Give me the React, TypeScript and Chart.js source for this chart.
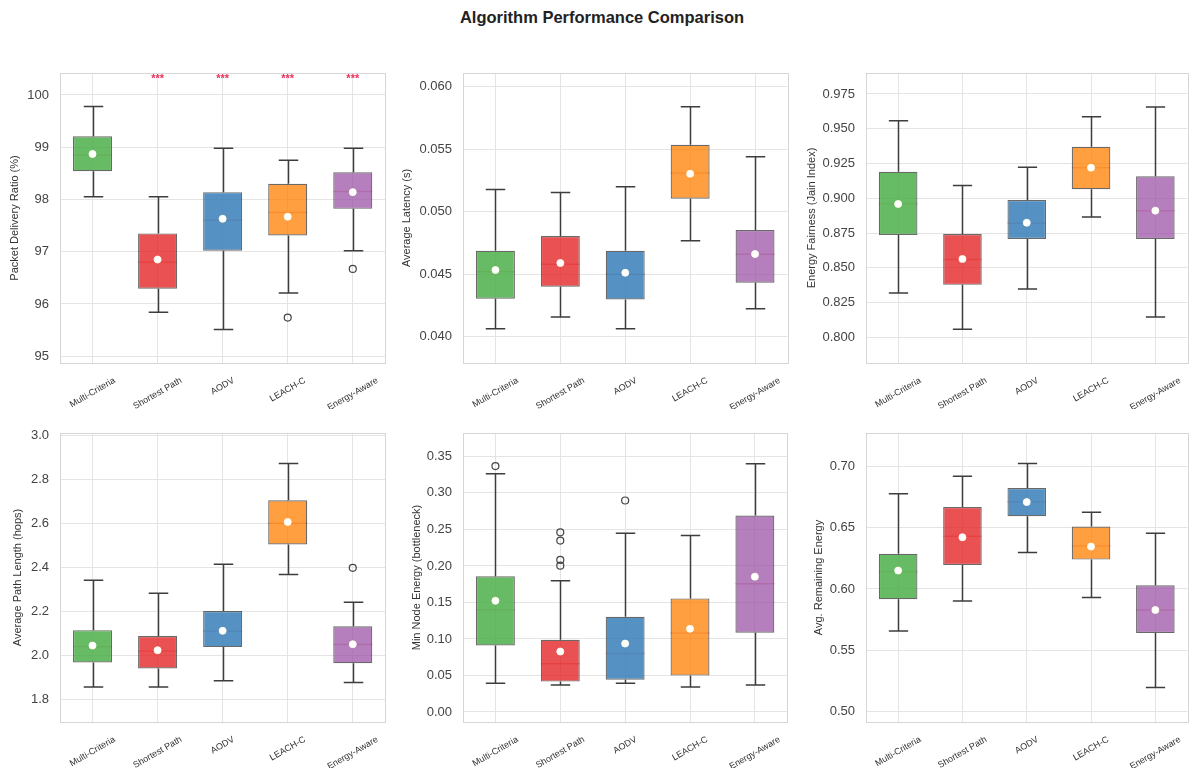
import React, { useEffect, useRef } from "react";
import { Chart, registerables } from "chart.js";

Chart.register(...registerables);

const FONT = "'Liberation Sans', Arial, Helvetica, sans-serif";

const categories = ["Multi-Criteria", "Shortest Path", "AODV", "LEACH-C", "Energy-Aware"];
const boxColors = [
  "rgba(77,175,74,0.85)",
  "rgba(228,26,28,0.76)",
  "rgba(55,126,184,0.85)",
  "rgba(255,127,0,0.75)",
  "rgba(152,78,163,0.72)",
];

// Packet Delivery Ratio (%)
const pdrLow = [98.05, 95.84, 95.51, 96.21, 97.02];
const pdrQ1 = [98.54, 96.29, 97.02, 97.31, 97.82];
const pdrMedian = [98.85, 96.8, 97.6, 97.75, 98.15];
const pdrQ3 = [99.21, 97.35, 98.14, 98.3, 98.52];
const pdrHigh = [99.78, 98.05, 98.98, 98.75, 98.98];
const pdrMean = [98.87, 96.85, 97.63, 97.67, 98.14];
const pdrOutliers = [[], [], [], [95.74], [96.67]];
const pdrTicks = [95, 96, 97, 98, 99, 100];
const pdrSig = ["", "***", "***", "***", "***"];
const pdrSigLevel = 100.3;

// Average Latency (s)
const latLow = [0.04064, 0.04158, 0.04064, 0.04768, 0.04224];
const latQ1 = [0.04304, 0.044, 0.04299, 0.05104, 0.04432];
const latMedian = [0.0452, 0.0458, 0.045, 0.0531, 0.0466];
const latQ3 = [0.04688, 0.04806, 0.04688, 0.05536, 0.04854];
const latHigh = [0.05179, 0.05155, 0.052, 0.0584, 0.0544];
const latMean = [0.04534, 0.0459, 0.04512, 0.05304, 0.04662];
const latOutliers = [[], [], [], [], []];
const latTicks = [0.04, 0.045, 0.05, 0.055, 0.06];

// Energy Fairness (Jain Index)
const jainLow = [0.8319, 0.8058, 0.8348, 0.8865, 0.8146];
const jainQ1 = [0.8736, 0.8377, 0.8707, 0.9065, 0.8707];
const jainMedian = [0.896, 0.856, 0.882, 0.922, 0.891];
const jainQ3 = [0.9191, 0.8743, 0.8988, 0.9371, 0.9158];
const jainHigh = [0.9558, 0.9091, 0.9223, 0.9587, 0.9657];
const jainMean = [0.8959, 0.8563, 0.8824, 0.922, 0.8911];
const jainOutliers = [[], [], [], [], []];
const jainTicks = [0.8, 0.825, 0.85, 0.875, 0.9, 0.925, 0.95, 0.975];

// Average Path Length (hops)
const hopLow = [1.857, 1.857, 1.885, 2.368, 1.877];
const hopQ1 = [1.968, 1.941, 2.038, 2.504, 1.965];
const hopMedian = [2.04, 2.02, 2.11, 2.6, 2.05];
const hopQ3 = [2.115, 2.088, 2.202, 2.705, 2.133];
const hopHigh = [2.342, 2.283, 2.414, 2.872, 2.242];
const hopMean = [2.045, 2.024, 2.112, 2.606, 2.051];
const hopOutliers = [[], [], [], [], [2.398]];
const hopTicks = [1.8, 2.0, 2.2, 2.4, 2.6, 2.8, 3.0];

// Min Node Energy (bottleneck)
const minLow = [0.0394, 0.0371, 0.0394, 0.0343, 0.0371];
const minQ1 = [0.091, 0.0416, 0.0443, 0.0498, 0.1084];
const minMedian = [0.14, 0.066, 0.08, 0.108, 0.1757];
const minQ3 = [0.1857, 0.0988, 0.1304, 0.1555, 0.269];
const minHigh = [0.3262, 0.1798, 0.2447, 0.2416, 0.34];
const minMean = [0.1523, 0.0828, 0.0937, 0.1139, 0.1853];
const minOutliers = [[0.3367], [0.246, 0.2347, 0.2082, 0.2004], [0.2896], [], []];
const minTicks = [0, 0.05, 0.1, 0.15, 0.2, 0.25, 0.3, 0.35];

// Avg. Remaining Energy
const remLow = [0.5658, 0.5903, 0.6297, 0.593, 0.5198];
const remQ1 = [0.5916, 0.6196, 0.6592, 0.6239, 0.5642];
const remMedian = [0.614, 0.643, 0.671, 0.635, 0.583];
const remQ3 = [0.6286, 0.6666, 0.6821, 0.6508, 0.603];
const remHigh = [0.6775, 0.6918, 0.702, 0.6625, 0.6454];
const remMean = [0.615, 0.6421, 0.6707, 0.6345, 0.5829];
const remOutliers = [[], [], [], [], []];
const remTicks = [0.5, 0.55, 0.6, 0.65, 0.7];

type Panel = {
  title: string;
  low: number[]; q1: number[]; median: number[]; q3: number[]; high: number[]; mean: number[];
  outliers: number[][];
  ticks: number[]; decimals: number; min: number; max: number;
  left: number; top: number; width: number; height: number;
  yW: number; areaTop: number; padRight: number; chartH: number; titlePad: number;
  sig?: string[]; sigLevel?: number;
};

const panels: Panel[] = [
  { title: "Packet Delivery Ratio (%)", low: pdrLow, q1: pdrQ1, median: pdrMedian, q3: pdrQ3, high: pdrHigh, mean: pdrMean, outliers: pdrOutliers, ticks: pdrTicks, decimals: 0, min: 94.87, max: 100.42, left: 0, top: 60, width: 390, height: 349, yW: 60, areaTop: 13, padRight: 3, chartH: 290, titlePad: 8.4, sig: pdrSig, sigLevel: pdrSigLevel },
  { title: "Average Latency (s)", low: latLow, q1: latQ1, median: latMedian, q3: latQ3, high: latHigh, mean: latMean, outliers: latOutliers, ticks: latTicks, decimals: 3, min: 0.0379, max: 0.0611, left: 392, top: 60, width: 400, height: 349, yW: 71, areaTop: 13, padRight: 3, chartH: 290, titlePad: 8.4 },
  { title: "Energy Fairness (Jain Index)", low: jainLow, q1: jainQ1, median: jainMedian, q3: jainQ3, high: jainHigh, mean: jainMean, outliers: jainOutliers, ticks: jainTicks, decimals: 3, min: 0.7815, max: 0.9901, left: 797, top: 60, width: 395, height: 349, yW: 69, areaTop: 13, padRight: 1, chartH: 290, titlePad: 8.4 },
  { title: "Average Path Length (hops)", low: hopLow, q1: hopQ1, median: hopMedian, q3: hopQ3, high: hopHigh, mean: hopMean, outliers: hopOutliers, ticks: hopTicks, decimals: 1, min: 1.698, max: 3.01, left: 0, top: 420, width: 390, height: 348, yW: 60, areaTop: 13, padRight: 3, chartH: 289, titlePad: 11.4 },
  { title: "Min Node Energy (bottleneck)", low: minLow, q1: minQ1, median: minMedian, q3: minQ3, high: minHigh, mean: minMean, outliers: minOutliers, ticks: minTicks, decimals: 2, min: -0.0137, max: 0.382, left: 392, top: 420, width: 400, height: 348, yW: 71, areaTop: 13, padRight: 3, chartH: 289, titlePad: 18.4 },
  { title: "Avg. Remaining Energy", low: remLow, q1: remQ1, median: remMedian, q3: remQ3, high: remHigh, mean: remMean, outliers: remOutliers, ticks: remTicks, decimals: 2, min: 0.4918, max: 0.7269, left: 797, top: 420, width: 395, height: 348, yW: 69, areaTop: 13, padRight: 1, chartH: 289, titlePad: 15.4 },
];

const GRID = "#e4e4e4";
const TICK_FONT = 13;

function BoxPanel({ p }: { p: Panel }) {
  const ref = useRef<HTMLCanvasElement | null>(null);
  useEffect(() => {
    if (!ref.current) return;
    const outlierData: { x: string; y: number }[] = [];
    p.outliers.forEach((arr, i) => arr.forEach((v) => outlierData.push({ x: categories[i], y: v })));

    const boxPlugin = {
      id: "boxExtras",
      beforeDatasetsDraw(chart: any) {
        const { ctx } = chart;
        const xs = chart.scales.x;
        const ys = chart.scales.y;
        const step = xs.getPixelForValue(1) - xs.getPixelForValue(0);
        const halfBox = step * 0.3;
        ctx.save();
        // medians (very faint, beneath the translucent boxes)
        ctx.strokeStyle = "rgba(210,40,40,0.3)";
        ctx.lineWidth = 1.5;
        p.median.forEach((m, i) => {
          const x = xs.getPixelForValue(i);
          const y = ys.getPixelForValue(m);
          ctx.beginPath();
          ctx.moveTo(x - halfBox, y);
          ctx.lineTo(x + halfBox, y);
          ctx.stroke();
        });
        // whiskers and caps
        ctx.strokeStyle = "#3d3d3d";
        ctx.lineWidth = 1.5;
        const cap = step * 0.15;
        categories.forEach((_, i) => {
          const x = Math.round(xs.getPixelForValue(i)) + 0.5;
          const yl = ys.getPixelForValue(p.low[i]);
          const y1 = ys.getPixelForValue(p.q1[i]);
          const y3 = ys.getPixelForValue(p.q3[i]);
          const yh = ys.getPixelForValue(p.high[i]);
          ctx.beginPath();
          ctx.moveTo(x, y1);
          ctx.lineTo(x, yl);
          ctx.moveTo(x - cap, yl);
          ctx.lineTo(x + cap, yl);
          ctx.moveTo(x, y3);
          ctx.lineTo(x, yh);
          ctx.moveTo(x - cap, yh);
          ctx.lineTo(x + cap, yh);
          ctx.stroke();
        });
        ctx.restore();
      },
      afterDraw(chart: any) {
        const { ctx, chartArea } = chart;
        const xs = chart.scales.x;
        const ys = chart.scales.y;
        ctx.save();
        // frame
        ctx.strokeStyle = "#d6d6d6";
        ctx.lineWidth = 1;
        ctx.strokeRect(
          Math.round(chartArea.left) + 0.5,
          Math.round(chartArea.top) + 0.5,
          Math.round(chartArea.right - chartArea.left),
          Math.round(chartArea.bottom - chartArea.top)
        );
        // rotated, centred category labels
        const fs = 9;
        ctx.font = `${fs}px ${FONT}`;
        ctx.fillStyle = "#333";
        ctx.textAlign = "center";
        ctx.textBaseline = "middle";
        const th = (30 * Math.PI) / 180;
        categories.forEach((c, i) => {
          const w = ctx.measureText(c).width;
          const H = w * Math.sin(th) + fs * Math.cos(th);
          const x = xs.getPixelForValue(i);
          const y = chartArea.bottom + 13 + H / 2;
          ctx.save();
          ctx.translate(x, y);
          ctx.rotate(-th);
          ctx.fillText(c, 0, 0);
          ctx.restore();
        });
        // significance markers
        if (p.sig && p.sigLevel !== undefined) {
          ctx.font = `bold 11px ${FONT}`;
          ctx.fillStyle = "#e8305a";
          ctx.textAlign = "center";
          ctx.textBaseline = "middle";
          p.sig.forEach((s, i) => {
            if (!s) return;
            ctx.fillText(s, xs.getPixelForValue(i), ys.getPixelForValue(p.sigLevel));
          });
        }
        ctx.restore();
      },
    };

    const chart = new Chart(ref.current, {
      type: "bar",
      data: {
        labels: categories,
        datasets: [
          {
            type: "line",
            data: p.mean.map((m, i) => ({ x: categories[i], y: m })),
            showLine: false,
            pointRadius: 3.5,
            pointHoverRadius: 3.5,
            pointBackgroundColor: "#ffffff",
            pointBorderColor: "rgba(255,255,235,0.9)",
            pointBorderWidth: 1,
            order: 1,
          } as any,
          {
            type: "line",
            data: outlierData,
            showLine: false,
            pointRadius: 3.5,
            pointHoverRadius: 3.5,
            pointBackgroundColor: "rgba(255,255,255,0)",
            pointBorderColor: "#444",
            pointBorderWidth: 1.2,
            order: 2,
          } as any,
          {
            type: "bar",
            data: p.q1.map((q, i) => [q, p.q3[i]]),
            backgroundColor: boxColors,
            borderColor: "rgba(55,55,55,0.75)",
            borderWidth: 1.2,
            borderSkipped: false,
            barPercentage: 0.6,
            categoryPercentage: 1.0,
            order: 3,
          } as any,
        ],
      },
      options: {
        animation: false,
        responsive: false,
        maintainAspectRatio: false,
        layout: { padding: { top: p.areaTop, right: p.padRight, left: 0, bottom: 0 } },
        plugins: {
          legend: { display: false },
          tooltip: { enabled: false },
          title: { display: false },
        },
        scales: {
          x: {
            type: "category",
            offset: true,
            grid: { offset: false, color: GRID, drawTicks: false, lineWidth: 1 },
            border: { display: false },
            ticks: { display: false },
            afterFit: (s: any) => {
              s.height = p.height - p.areaTop - p.chartH;
            },
          },
          y: {
            min: p.min,
            max: p.max,
            afterBuildTicks: (s: any) => {
              s.ticks = p.ticks.map((v) => ({ value: v }));
            },
            ticks: {
              callback: (v: any) => Number(v).toFixed(p.decimals),
              font: { family: FONT, size: TICK_FONT },
              color: "#444",
              padding: 0,
            },
            grid: { color: GRID, drawTicks: true, tickLength: 11, tickColor: "rgba(0,0,0,0)", lineWidth: 1 },
            border: { display: false },
            title: {
              display: true,
              text: p.title,
              font: { family: FONT, size: 11 },
              color: "#333",
              padding: { top: p.titlePad, bottom: 0 },
            },
            afterFit: (s: any) => {
              s.width = p.yW;
            },
          },
        },
      } as any,
      plugins: [boxPlugin],
    });
    return () => chart.destroy();
  }, [p]);

  return (
    <canvas
      ref={ref}
      width={p.width}
      height={p.height}
      style={{ position: "absolute", left: p.left, top: p.top, width: p.width, height: p.height }}
    />
  );
}

export default function App() {
  return (
    <div style={{ position: "absolute", left: 0, top: 0, width: 1192, height: 769, background: "#fff", overflow: "hidden" }}>
      <div
        style={{
          position: "absolute",
          left: 0,
          top: 7,
          width: 1204,
          textAlign: "center",
          fontFamily: FONT,
          fontWeight: "bold",
          fontSize: 16.5,
          lineHeight: "20px",
          color: "#222",
        }}
      >
        Algorithm Performance Comparison
      </div>
      {panels.map((p, i) => (
        <BoxPanel key={i} p={p} />
      ))}
    </div>
  );
}
